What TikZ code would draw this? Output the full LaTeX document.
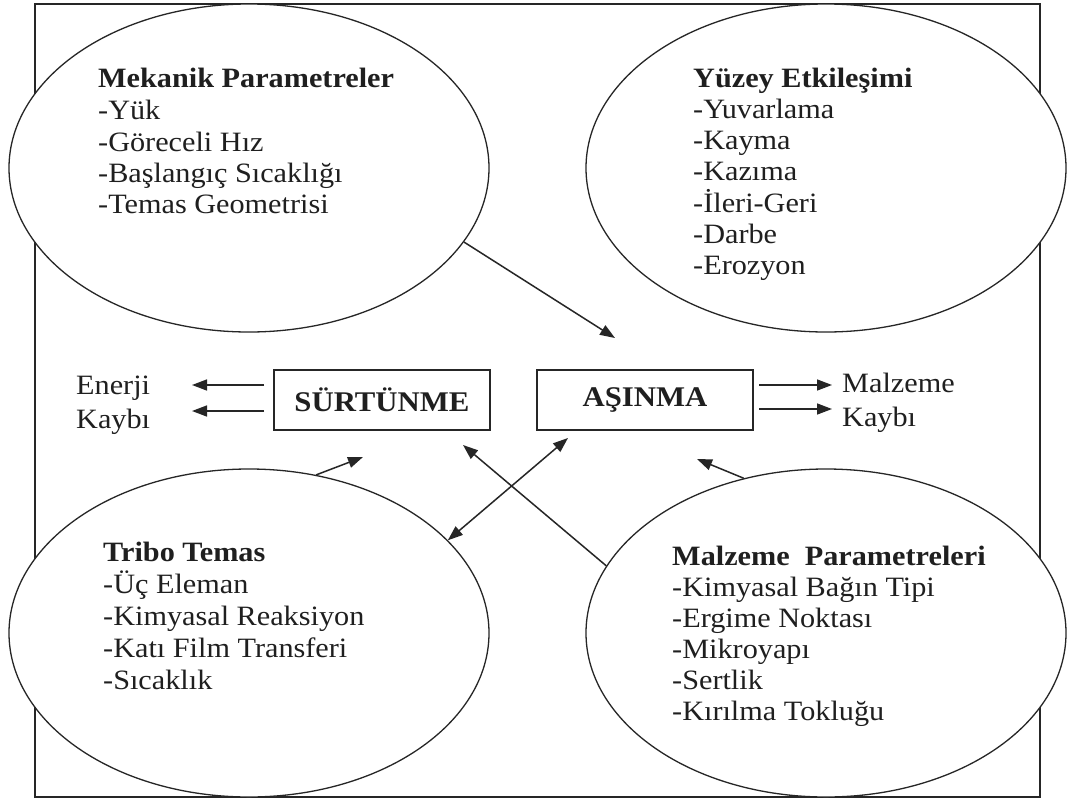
\documentclass[tikz,border=0pt]{standalone}
\usepackage{fontspec}
\setmainfont{Liberation Serif}[FakeStretch=1.08]
\usetikzlibrary{arrows.meta,shapes.geometric}
\begin{document}
\begin{tikzpicture}[x=1pt,y=-1pt,
  oval/.style={ellipse,draw=black!85,fill=white,line width=1.3pt,minimum width=480pt,minimum height=328pt,inner sep=0pt},
  txt/.style={anchor=base west,inner sep=0pt,text=black!88,font=\fontsize{28}{31.5}\selectfont},
  boxnode/.style={draw=black!85,line width=1.3pt,minimum width=216pt,minimum height=60pt,inner sep=0pt,text=black!88,font=\fontsize{28.5}{31.5}\selectfont\bfseries},
  arr/.style={draw=black!85,line width=1.5pt,-{Triangle[length=15pt,width=11pt]}},
  dblarr/.style={draw=black!85,line width=1.5pt,{Triangle[length=15pt,width=11pt]}-{Triangle[length=15pt,width=11pt]}},
]
\useasboundingbox (0,0) rectangle (1070,800);
\fill[white] (0,0) rectangle (1070,800);
% frame
\draw[black!85,line width=1.3pt] (35,4) rectangle (1040,797);
% ellipses
\node[oval] (tl) at (249,168) {};
\node[oval] (tr) at (826,168) {};
\node[oval] (bl) at (249,633) {};
\node[oval] (br) at (826,633) {};
% ellipse texts
\node[txt] (tlt) at (98,88) {\vtop{\baselineskip=31.5pt
  \hbox{\bfseries Mekanik Parametreler}\hbox{-Yük}\hbox{-Göreceli Hız}\hbox{-Başlangıç Sıcaklığı}\hbox{-Temas Geometrisi}}};
\node[txt] (trt) at (693,87) {\vtop{\baselineskip=31.3pt
  \hbox{\bfseries Yüzey Etkileşimi}\hbox{-Yuvarlama}\hbox{-Kayma}\hbox{-Kazıma}\hbox{-İleri-Geri}\hbox{-Darbe}\hbox{-Erozyon}}};
\node[txt] (blt) at (103,561) {\vtop{\baselineskip=32pt
  \hbox{\bfseries Tribo Temas}\hbox{-Üç Eleman}\hbox{-Kimyasal Reaksiyon}\hbox{-Katı Film Transferi}\hbox{-Sıcaklık}}};
\node[txt] (brt) at (672,565) {\vtop{\baselineskip=31pt
  \hbox{\bfseries Malzeme\ \ Parametreleri}\hbox{-Kimyasal Bağın Tipi}\hbox{-Ergime Noktası}\hbox{-Mikroyapı}\hbox{-Sertlik}\hbox{-Kırılma Tokluğu}}};
% boxes
\node[boxnode] (sur) at (382,400) {SÜRTÜNME};
\node[boxnode] (asi) at (645,400) {AŞINMA};
% side labels
\node[txt] (en) at (76,394) {\vtop{\baselineskip=34pt\hbox{Enerji}\hbox{Kaybı}}};
\node[txt] (mk) at (842,392) {\vtop{\baselineskip=34pt\hbox{Malzeme}\hbox{Kaybı}}};
% coordinates
\coordinate (e1s) at (264,385); \coordinate (e1t) at (192,385);
\coordinate (e2s) at (264,411); \coordinate (e2t) at (192,411);
\coordinate (m1s) at (759,385); \coordinate (m1t) at (832,385);
\coordinate (m2s) at (759,409); \coordinate (m2t) at (832,409);
\coordinate (t1) at (615,338);
\coordinate (t2) at (363,457);
\coordinate (t3) at (697,459);
\coordinate (t4) at (463,445);
\coordinate (t5) at (568,438);
% connectors
\draw[arr] (e1s) -- (e1t);
\draw[arr] (e2s) -- (e2t);
\draw[arr] (m1s) -- (m1t);
\draw[arr] (m2s) -- (m2t);
\draw[arr] (tl.-19) -- (t1);
\draw[arr] (bl.67) -- (t2);
\draw[arr] (br.118) -- (t3);
\draw[arr] (br.163) -- (t4);
\draw[dblarr] (bl.25) -- (t5);
\end{tikzpicture}
\end{document}
